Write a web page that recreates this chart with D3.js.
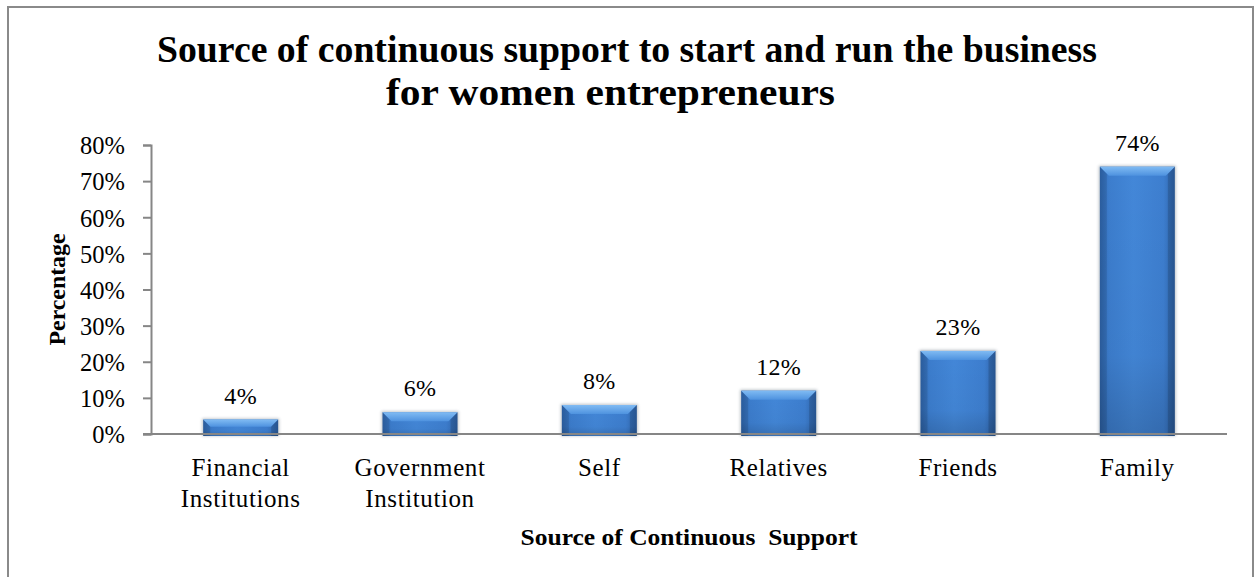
<!DOCTYPE html>
<html>
<head>
<meta charset="utf-8">
<script src="https://cdn.jsdelivr.net/npm/d3@7"></script>
<style>
  html, body { margin: 0; padding: 0; background: #fff; }
  svg { display: block; }
  text { font-family: "Liberation Serif", "Times New Roman", serif; fill: #000; }
</style>
</head>
<body>
<svg id="chart" width="1258" height="577"></svg>
<script>
// Chart data
const categories = [
  ["Financial", "Institutions"],
  ["Government", "Institution"],
  ["Self"],
  ["Relatives"],
  ["Friends"],
  ["Family"]
];
const values = [4, 6, 8, 12, 23, 74];
const yTicks = [0, 10, 20, 30, 40, 50, 60, 70, 80];
const titleLines = [
  "Source of continuous support to start and run the business",
  "for women entrepreneurs"
];
const xTitle = "Source of Continuous  Support";
const yTitle = "Percentage";

const W = 1258, H = 577;
const margin = { left: 151, right: 1227, top: 145, bottom: 434 };

const svg = d3.select("#chart");

// Outer chart frame
svg.append("rect")
  .attr("x", 8).attr("y", 7)
  .attr("width", 1245).attr("height", 580)
  .attr("fill", "#fff")
  .attr("stroke", "#8a8a8a")
  .attr("stroke-width", 2);

const defs = svg.append("defs");

// Horizontal shading of the bar body
const gBody = defs.append("linearGradient").attr("id", "barBody")
  .attr("x1", "0").attr("x2", "1").attr("y1", "0").attr("y2", "0");
[["0%", "#3068b0"], ["12%", "#3c7dcd"], ["45%", "#4387d8"], ["85%", "#3d7ecf"], ["100%", "#2e64aa"]]
  .forEach(([o, c]) => gBody.append("stop").attr("offset", o).attr("stop-color", c));

// Vertical darkening toward the base
const gShade = defs.append("linearGradient").attr("id", "barShade")
  .attr("x1", "0").attr("x2", "0").attr("y1", "0").attr("y2", "1");
[["0%", "#000", 0], ["70%", "#000", 0.03], ["100%", "#000", 0.16]]
  .forEach(([o, c, a]) => gShade.append("stop").attr("offset", o).attr("stop-color", c).attr("stop-opacity", a));

// Top bevel highlight
const gTop = defs.append("linearGradient").attr("id", "barTop")
  .attr("x1", "0").attr("x2", "0").attr("y1", "0").attr("y2", "1");
[["0%", "#80bbf3"], ["100%", "#4e92df"]]
  .forEach(([o, c]) => gTop.append("stop").attr("offset", o).attr("stop-color", c));

// Soft shadow around each bar
const blur = defs.append("filter").attr("id", "barShadow")
  .attr("x", "-20%").attr("y", "-20%").attr("width", "140%").attr("height", "140%");
blur.append("feGaussianBlur").attr("stdDeviation", 1.4);

// Scales
const x = d3.scaleBand()
  .domain(d3.range(categories.length))
  .range([margin.left, margin.right])
  .paddingInner(0.582)
  .paddingOuter(0.291);

const y = d3.scaleLinear()
  .domain([0, 80])
  .range([margin.bottom, margin.top]);

// Bars
const bars = svg.append("g").selectAll("g.bar")
  .data(values)
  .join("g").attr("class", "bar");

bars.append("rect")
  .attr("x", (d, i) => x(i) - 1)
  .attr("y", d => y(d) - 1)
  .attr("width", x.bandwidth() + 2)
  .attr("height", d => y(0) - y(d) + 3)
  .attr("fill", "#7a8590")
  .attr("opacity", 0.5)
  .attr("filter", "url(#barShadow)");

bars.append("rect")
  .attr("x", (d, i) => x(i))
  .attr("y", d => y(d))
  .attr("width", x.bandwidth())
  .attr("height", d => y(0) - y(d) + 2)
  .attr("fill", "url(#barBody)");

bars.append("rect")
  .attr("x", (d, i) => x(i))
  .attr("y", d => y(d))
  .attr("width", x.bandwidth())
  .attr("height", d => y(0) - y(d) + 2)
  .attr("fill", "url(#barShade)");

// Side bevels
bars.append("path")
  .attr("fill", "#000").attr("opacity", 0.1)
  .attr("d", (d, i) => {
    const x0 = x(i), y0 = y(d), y1 = y(0) + 2;
    const b = Math.min(7, (y1 - y0) / 2);
    return `M${x0},${y0}L${x0 + b},${y0 + b}L${x0 + b},${y1}L${x0},${y1}Z`;
  });
bars.append("path")
  .attr("fill", "#000").attr("opacity", 0.14)
  .attr("d", (d, i) => {
    const x1 = x(i) + x.bandwidth(), y0 = y(d), y1 = y(0) + 2;
    const b = Math.min(7, (y1 - y0) / 2);
    return `M${x1},${y0}L${x1 - b},${y0 + b}L${x1 - b},${y1}L${x1},${y1}Z`;
  });

// Top bevel
bars.append("path")
  .attr("fill", "url(#barTop)")
  .attr("d", (d, i) => {
    const x0 = x(i), x1 = x0 + x.bandwidth(), y0 = y(d);
    const b = Math.min(9, (y(0) - y0) / 2);
    return `M${x0},${y0}L${x1},${y0}L${x1 - b},${y0 + b}L${x0 + b},${y0 + b}Z`;
  });

// Value labels
svg.append("g").selectAll("text")
  .data(values)
  .join("text")
  .attr("x", (d, i) => x(i) + x.bandwidth() / 2)
  .attr("y", d => y(d) - 16)
  .attr("text-anchor", "middle")
  .attr("font-size", 24)
  .attr("letter-spacing", 0.3)
  .text(d => d + "%");

// Y axis
const yAxis = d3.axisLeft(y)
  .tickValues(yTicks)
  .tickFormat(d => d + "%")
  .tickSize(8)
  .tickPadding(18);

const gy = svg.append("g")
  .attr("transform", `translate(${margin.left},0)`)
  .call(yAxis);
gy.select(".domain").attr("stroke", "#868686").attr("stroke-width", 2);
gy.selectAll(".tick line").attr("stroke", "#868686").attr("stroke-width", 2);
gy.selectAll(".tick text")
  .attr("font-size", 24.5)
  .attr("font-family", "Liberation Serif, Times New Roman, serif")
  .attr("fill", "#000")
  .attr("dy", "0.36em");

// X axis baseline
svg.append("line")
  .attr("x1", margin.left - 8).attr("x2", margin.right)
  .attr("y1", y(0)).attr("y2", y(0))
  .attr("stroke", "#868686").attr("stroke-width", 2);

// Category labels
const catG = svg.append("g").selectAll("text")
  .data(categories)
  .join("text")
  .attr("text-anchor", "middle")
  .attr("font-size", 25)
  .attr("letter-spacing", 0.6);
catG.selectAll("tspan")
  .data((d, i) => d.map(t => ({ t, i })))
  .join("tspan")
  .attr("x", d => x(d.i) + x.bandwidth() / 2)
  .attr("y", (d, j) => 476 + j * 31)
  .text(d => d.t);

// Axis titles
svg.append("text")
  .attr("x", (margin.left + margin.right) / 2)
  .attr("y", 545)
  .attr("text-anchor", "middle")
  .attr("font-size", 24)
  .attr("font-weight", "bold")
  .style("white-space", "pre")
  .attr("textLength", 337)
  .attr("lengthAdjust", "spacingAndGlyphs")
  .text(xTitle);

svg.append("text")
  .attr("transform", `translate(65,${(margin.top + margin.bottom) / 2}) rotate(-90)`)
  .attr("text-anchor", "middle")
  .attr("font-size", 24)
  .attr("font-weight", "bold")
  .attr("textLength", 112)
  .attr("lengthAdjust", "spacingAndGlyphs")
  .text(yTitle);

// Title
const titlePos = [
  { x: 157, y: 62, w: 940 },
  { x: 386, y: 105, w: 449 }
];
svg.append("g").selectAll("text")
  .data(titleLines)
  .join("text")
  .attr("x", (d, i) => titlePos[i].x)
  .attr("y", (d, i) => titlePos[i].y)
  .attr("font-size", 38)
  .attr("font-weight", "bold")
  .attr("textLength", (d, i) => titlePos[i].w)
  .attr("lengthAdjust", "spacingAndGlyphs")
  .text(d => d);
</script>
</body>
</html>
